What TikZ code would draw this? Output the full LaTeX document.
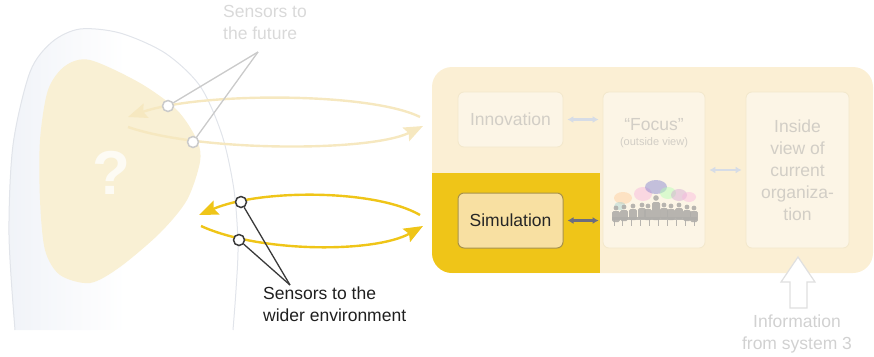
\documentclass[tikz,border=0pt]{standalone}
\usepackage{fontspec}
\setmainfont{Liberation Sans}
\usetikzlibrary{arrows.meta,calc}

\definecolor{headline}{HTML}{E1E4EA}
\definecolor{headtint}{HTML}{F0F3F8}
\definecolor{blob}{HTML}{F9F0D4}
\definecolor{paleyellow}{HTML}{F6E8C0}
\definecolor{gold}{HTML}{EFC518}
\definecolor{panel}{HTML}{FBEFD4}
\definecolor{boxfill}{HTML}{FCF5E6}
\definecolor{boxline}{HTML}{F3E8CC}
\definecolor{fadedtext}{HTML}{D2CEC6}
\definecolor{simfill}{HTML}{F8E0A2}
\definecolor{simline}{HTML}{A8924A}
\definecolor{lightarrow}{HTML}{D6DCE6}
\definecolor{darkarrow}{HTML}{6C6D7E}
\definecolor{sensorgray}{HTML}{CACACA}
\definecolor{sensordark}{HTML}{3A3A3A}
\definecolor{people}{HTML}{B0AEAA}

\tikzset{
  every node/.style={font=\fontsize{17.5}{22}\selectfont},
  blockbox/.style={draw=boxline, fill=boxfill, line width=0.8pt, rounded corners=6pt},
  loopline/.style={line width=2.4pt, -{Stealth[length=19pt,width=15pt,inset=3pt]}},
  sensor/.style={circle, draw, fill=white, line width=1.5pt, minimum size=11pt, inner sep=0pt},
  pointer/.style={line width=1.3pt},
  twoway/.style={line width=2.2pt, {Latex[length=6pt,width=7pt]}-{Latex[length=6pt,width=7pt]}},
}

\begin{document}
\begin{tikzpicture}[x=1pt,y=-1pt]
\useasboundingbox (0,0) rectangle (874,356);

% ---- head outline with a faint tint on its back side
\def\headpath{plot[smooth] coordinates {(15,330) (9,235) (13,145) (30,72) (52,42) (80,29) (120,33) (165,53) (200,86) (222,135) (234,190) (238,245) (236,290) (233,330)}}
\begin{scope}
  \clip \headpath -- cycle;
  \shade[left color=headtint, right color=white] (5,20) rectangle (125,335);
\end{scope}
\draw[headline, line width=1pt] \headpath;

% ---- inner area with the question mark
\fill[blob] plot[smooth cycle] coordinates {(90,60) (140,83) (177,110) (197,140) (200,162) (187,200) (160,233) (120,267) (90,283) (60,275) (45,250) (40,200) (40,140) (48,90) (65,66)};
\node[font=\fontsize{62}{62}\bfseries\selectfont, text=white!75!blob] (qmark) at (111,173) {?};

% ---- right-hand panel
\fill[panel, rounded corners=20pt] (432,67) rectangle (873,273);
\begin{scope}
  \clip[rounded corners=20pt] (432,67) rectangle (873,273);
  \fill[gold] (432,173) rectangle (600,273);
\end{scope}

\node[blockbox, minimum width=105pt, minimum height=55pt, text=fadedtext] (innov) at (510.5,119.5) {Innovation};
\node[draw=simline, fill=simfill, line width=1pt, rounded corners=6pt, minimum width=105pt, minimum height=55pt, text=black!85] (sim) at (510.5,220.5) {Simulation};
\node[blockbox, minimum width=102pt, minimum height=156pt] (focus) at (654,170) {};
\node[blockbox, minimum width=103pt, minimum height=156pt] (inside) at (797.5,170) {};

\node[text=fadedtext, align=center] (focustitle) at (654,125) {“Focus”};
\node[text=fadedtext, font=\fontsize{11}{13}\selectfont] (focussub) at (654,143) {(outside view)};
\node[text=fadedtext, align=center] (insidetext) at (797.5,170) {Inside\\view of\\current\\organiza-\\tion};

% ---- meeting illustration inside the focus box
\begin{scope}[opacity=0.45]
  \fill[orange!40] (623,198) ellipse [x radius=9, y radius=6];
  \fill[teal!35] (620,206) ellipse [x radius=6, y radius=4];
  \fill[magenta!30] (643,194) ellipse [x radius=9, y radius=7];
  \fill[blue!45!gray!70] (656,187) ellipse [x radius=11, y radius=7];
  \fill[green!30] (668,193) ellipse [x radius=8, y radius=6];
  \fill[violet!35] (679,195) ellipse [x radius=8, y radius=6];
  \fill[magenta!28] (689,197) ellipse [x radius=7, y radius=5];
\end{scope}
\begin{scope}[people, opacity=0.9]
  \foreach \px/\py in {616/208, 624/207, 633/206, 642/205, 648/206, 664/205, 671/206, 679/205, 687/207, 694/208}{
    \fill (\px,\py) circle (2.4);
    \fill[rounded corners=1.5pt] (\px-3.8,\py+3) rectangle (\px+3.8,\py+14);
  }
  \fill (656,198) circle (2.8);
  \fill[rounded corners=1.5pt] (652,202) rectangle (660,220);
  \fill (612,217) rectangle (697,220);
  \foreach \lx in {614,622,631,640,649,658,667,676,685,694}{
    \fill (\lx,220) rectangle (\lx+1.4,226);
  }
\end{scope}

% ---- links between the blocks
\draw[twoway, lightarrow] (innov.east) ++(4,0) coordinate (ia) -- ($(focus.west |- innov.east)+(-4,0)$) coordinate (fa);
\draw[twoway, darkarrow] (sim.east) ++(4,0) coordinate (sa) -- ($(focus.west |- sim.east)+(-4,0)$) coordinate (fb);
\draw[twoway, lightarrow] ($(focus.east)+(4,0)$) coordinate (fc) -- ($(inside.west)+(-4,0)$) coordinate (ib);

% ---- input from below
\draw[draw=black!12, fill=white, line width=1.2pt, line join=miter]
  (790,308) -- (790,282) -- (781,282) -- (798,257) -- (815,282) -- (807,282) -- (807,308) -- cycle;
\node[text=black!18, align=center] (info) at (797,333.5) {Information\\from system 3};

% ---- loops between the inner area and the panel
\coordinate (pr1) at (420,117);
\coordinate (pl1) at (128,117);
\coordinate (pl2) at (128,127);
\coordinate (pr2) at (423,126);
\draw[loopline, paleyellow] (pr1) .. controls (370,92) and (200,92) .. (pl1);
\draw[loopline, paleyellow] (pl2) .. controls (200,152) and (370,152) .. (pr2);

\coordinate (gr1) at (420,215);
\coordinate (gl1) at (199,215);
\coordinate (gl2) at (201,226);
\coordinate (gr2) at (423,226);
\draw[loopline, gold] (gr1) .. controls (375,189) and (260,189) .. (gl1);
\draw[loopline, gold] (gl2) .. controls (260,253) and (375,253) .. (gr2);

% ---- sensors
\node[sensor, draw=sensorgray] (fs1) at (168,106) {};
\node[sensor, draw=sensorgray] (fs2) at (193,142) {};
\coordinate (fjoin) at (258,52);
\draw[pointer, sensorgray] (fjoin) -- (fs1);
\draw[pointer, sensorgray] (fjoin) -- (fs2);
\node[anchor=north west, align=left, text=black!15, inner sep=0pt] (futuretext) at (223,5) {Sensors to\\the future};

\node[sensor, draw=sensordark] (ws1) at (241,202) {};
\node[sensor, draw=sensordark] (ws2) at (239,240) {};
\coordinate (wjoin) at (290,285);
\draw[pointer, sensordark] (wjoin) -- (ws1);
\draw[pointer, sensordark] (wjoin) -- (ws2);
\node[anchor=north west, align=left, text=black!88, inner sep=0pt] (widertext) at (263,287) {Sensors to the\\wider environment};

\end{tikzpicture}
\end{document}
